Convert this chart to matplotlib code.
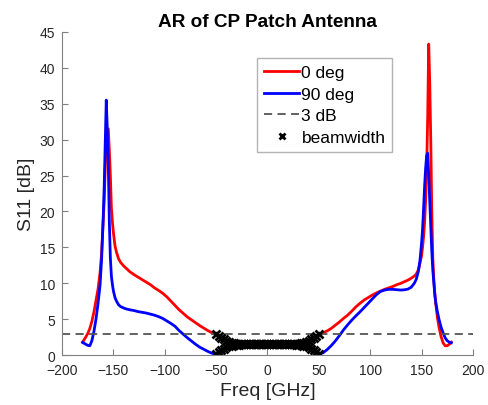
import numpy as np
import matplotlib
matplotlib.use("Agg")
import matplotlib.pyplot as plt

plt.rcParams['font.family'] = ['Liberation Sans', 'DejaVu Sans']

# Common frequency grid (GHz)
freq = [-180, -177, -175, -173, -171, -169, -167, -165, -163, -161.5, -160, -159, -158, -157,
        -156, -155, -154, -153, -152, -151, -150, -148.5, -147, -145, -143, -140, -137, -134,
        -130, -126, -122, -118, -114, -110, -106, -102, -98, -94, -90, -86, -82, -78, -74, -70,
        -66, -62, -58, -54,
        -50, -47.5, -45, -42.5, -40, -37.5, -35, -32.5, -30, -27.5, -25, -22.5, -20, -17.5, -15,
        -12.5, -10, -7.5, -5, -2.5, 0, 2.5, 5, 7.5, 10, 12.5, 15, 17.5, 20, 22.5, 25, 27.5, 30,
        32.5, 35, 37.5, 40, 42.5, 45, 47.5, 50,
        54, 58, 62, 66, 70, 74, 78, 82, 86, 90, 94, 98, 102, 106, 110, 114, 118, 122, 126, 130,
        134, 137, 140, 143, 145, 147, 148.5, 150, 151, 152, 153, 154, 155, 156, 157, 158, 159,
        160, 161, 162, 163, 164, 165.5, 167, 169, 171, 173, 175, 177, 179]

# AR, 0 deg cut
ar_0deg = [1.8, 2.5, 3.0, 3.7, 4.7, 6.0, 7.6, 9.2, 11.5, 14.3, 18.5, 21.5, 26.0, 29.5,
           31.5, 31.5, 28.5, 25.0, 20.5, 18.5, 17.0, 15.2, 14.3, 13.4, 12.9, 12.4, 12.0, 11.6,
           11.2, 10.85, 10.5, 10.15, 9.8, 9.35, 9.0, 8.6, 8.1, 7.5, 6.9, 6.3, 5.8, 5.3, 4.9, 4.5,
           4.1, 3.75, 3.4, 3.1,
           2.9, 2.62, 2.38, 2.17, 2.0, 1.85, 1.74, 1.65, 1.59, 1.55, 1.52, 1.5, 1.5, 1.5, 1.5,
           1.5, 1.5, 1.5, 1.5, 1.5, 1.5, 1.5, 1.5, 1.5, 1.5, 1.5, 1.5, 1.5, 1.5, 1.5, 1.52, 1.55, 1.59,
           1.65, 1.74, 1.85, 2.0, 2.17, 2.38, 2.62, 2.9,
           3.1, 3.35, 3.7, 4.15, 4.6, 5.1, 5.55, 6.1, 6.7, 7.2, 7.65, 8.0, 8.35, 8.65, 8.9, 9.15,
           9.35, 9.55, 9.8, 10.0, 10.25, 10.45, 10.7, 11.0, 11.3, 11.9, 12.8, 13.8, 15.0, 16.5,
           18.5, 21.5, 26.0, 33.0, 43.3, 38.0, 30.0, 20.0, 13.5, 10.5, 8.5, 7.0, 5.2, 3.9, 2.6,
           1.7, 1.3, 1.3, 1.5, 1.8]

# AR, 90 deg cut
ar_90deg = [1.75, 1.5, 1.35, 1.3, 2.0, 3.3, 5.0, 7.2, 9.8, 13.5, 19.0, 23.5, 29.5, 35.5,
            31.5, 26.5, 18.5, 13.5, 11.0, 9.8, 8.9, 8.0, 7.5, 7.0, 6.75, 6.55, 6.4, 6.3,
            6.2, 6.05, 5.95, 5.85, 5.7, 5.55, 5.35, 5.1, 4.75, 4.4, 4.0, 3.4, 2.9, 2.4, 1.95, 1.5,
            1.1, 0.8, 0.5, 0.25,
            0.1, 0.4, 0.65, 0.88, 1.06, 1.2, 1.3, 1.38, 1.43, 1.47, 1.49, 1.5, 1.5, 1.5, 1.5,
            1.5, 1.5, 1.5, 1.5, 1.5, 1.5, 1.5, 1.5, 1.5, 1.5, 1.5, 1.5, 1.5, 1.5, 1.5, 1.49, 1.47, 1.43,
            1.38, 1.3, 1.2, 1.06, 0.88, 0.65, 0.4, 0.1,
            0.3, 0.75, 1.3, 1.95, 2.7, 3.5, 4.2, 4.85, 5.45, 6.0, 6.6, 7.2, 7.8, 8.4, 8.85, 9.05,
            9.15, 9.15, 9.1, 9.05, 9.1, 9.2, 9.45, 10.0, 10.6, 11.7, 13.2, 15.5, 17.5, 20.3,
            23.5, 26.0, 27.8, 28.1, 25.0, 21.5, 18.0, 14.5, 11.8, 10.0, 8.3, 7.2, 6.0, 5.0, 3.9,
            3.1, 2.4, 2.0, 1.8, 1.7]

threshold_db = 3
series_labels = ['0 deg', '90 deg', '3 dB', 'beamwidth']
title = 'AR of CP Patch Antenna'
xlabel = 'Freq [GHz]'
ylabel = 'S11 [dB]'
xticks = [-200, -150, -100, -50, 0, 50, 100, 150, 200]
yticks = [0, 5, 10, 15, 20, 25, 30, 35, 40, 45]

f = np.array(freq)
a0 = np.array(ar_0deg)
a90 = np.array(ar_90deg)

# Beamwidth: contiguous region around broadside where 0 deg AR < 3 dB
c = int(np.argmin(np.abs(f)))
lo = c
while lo > 0 and a0[lo - 1] < threshold_db:
    lo -= 1
hi = c
while hi < len(f) - 1 and a0[hi + 1] < threshold_db:
    hi += 1
bw = slice(lo, hi + 1)

fig = plt.figure(figsize=(4.89, 4.06), dpi=100)
ax = fig.add_axes([0.127, 0.123, 0.840, 0.796])

axc = '#262626'
ax.plot(f, a0, color=(1, 0, 0), lw=2, label=series_labels[0])
ax.plot(f, a90, color=(0, 0, 1), lw=2, label=series_labels[1])
ax.axhline(threshold_db, color='#555555', lw=1.3, ls=(0, (4.5, 3)), label=series_labels[2])
ax.plot(np.concatenate([f[bw], f[bw]]), np.concatenate([a0[bw], a90[bw]]),
        ls='none', marker='x', color='black', ms=6, mew=2, label=series_labels[3])

ax.set_xlim(-200, 200)
ax.set_ylim(0, 45)
ax.set_xticks(xticks)
ax.set_yticks(yticks)
for s in ['top', 'right']:
    ax.spines[s].set_visible(False)
for s in ['left', 'bottom']:
    ax.spines[s].set_color('#808080')
    ax.spines[s].set_linewidth(0.8)
ax.tick_params(direction='in', length=4, width=0.8, colors='#808080', labelcolor=axc,
               labelsize=10)
ax.tick_params(axis='x', pad=6)
ax.tick_params(axis='y', pad=5)

ax.set_title(title, fontsize=13.7, fontweight='bold', color='black', pad=4)
ax.set_xlabel(xlabel, fontsize=14, color=axc, labelpad=3)
ax.set_ylabel(ylabel, fontsize=14, color=axc, labelpad=3)

leg = ax.legend(loc='upper left', bbox_to_anchor=(0.475, 0.92), fontsize=12.5,
                frameon=True, fancybox=False, handlelength=2.0, handletextpad=0.15,
                borderpad=0.4, labelspacing=0.38, borderaxespad=0, markerscale=0.65)
leg.get_frame().set_edgecolor('#A0A0A0')
leg.get_frame().set_linewidth(1.0)

fig.savefig('out.png', dpi=100)
